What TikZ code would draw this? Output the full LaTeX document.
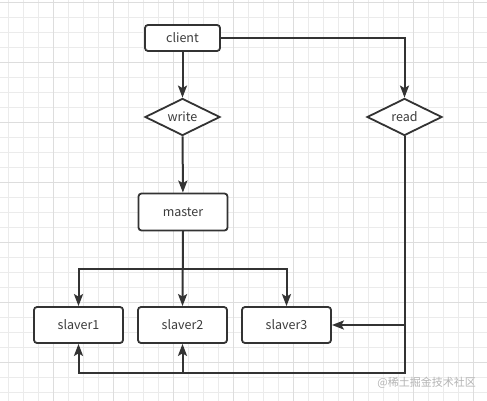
\documentclass[tikz,border=0pt]{standalone}
\usepackage{fontspec}
\setmainfont{Noto Sans CJK SC}
\usetikzlibrary{arrows.meta,shapes.geometric}
\definecolor{linec}{HTML}{333333}
\definecolor{textc}{HTML}{3C3C3C}
\definecolor{gridminor}{HTML}{EBEBEB}
\definecolor{gridmajor}{HTML}{DDDDDD}
\definecolor{wmark}{HTML}{B4B4B4}
\tikzset{
  box/.style={draw=linec, line width=1.8pt, rounded corners=3pt, fill=white,
    minimum width=75pt, minimum height=26pt, inner sep=0pt, text=textc,
    font=\fontsize{12.5}{14}\selectfont},
  widebox/.style={box, minimum width=89pt, minimum height=37pt},
  decision/.style={diamond, draw=linec, line width=1.8pt, fill=white, aspect=2,
    minimum width=75pt, minimum height=37pt, inner sep=0pt, text=textc,
    font=\fontsize{12.5}{14}\selectfont},
  arr/.style={draw=linec, line width=2pt,
    -{Stealth[length=12pt,width=9pt,inset=2.5pt]}},
  gminor/.style={draw=gridminor, line width=0.8pt},
  gmajor/.style={draw=gridmajor, line width=0.8pt}
}
\begin{document}
\begin{tikzpicture}[x=1pt,y=-1pt]
\useasboundingbox (0,0) rectangle (487,401);
\fill[white] (0,0) rectangle (487,401);
% grid
\foreach \x in {8,23,...,487} \draw[gminor] (\x,0) -- (\x,401);
\foreach \y in {2,17,...,401} \draw[gminor] (0,\y) -- (487,\y);
\foreach \x in {-7,53,...,487} \draw[gmajor] (\x,0) -- (\x,401);
\foreach \y in {2,62,...,401} \draw[gmajor] (0,\y) -- (487,\y);
% nodes
\node[box] (client) at (182.5,38) {client};
\node[decision] (write) at (182.5,117) {write};
\node[decision] (read) at (404.5,117) {read};
\node[widebox] (master) at (183,212) {master};
\node[widebox, minimum height=36pt] (s1) at (78.5,325) {slaver1};
\node[widebox, minimum height=36pt] (s2) at (182.5,325) {slaver2};
\node[widebox, minimum height=36pt] (s3) at (286.5,325) {slaver3};
\coordinate (bus) at (183,269);
\coordinate (bb) at (404.5,373);
% connectors
\draw[arr] (client) -- (write);
\draw[arr] (write) -- (master);
\draw[arr] (client.east) -| (read.north);
\draw[arr] (master.south) -- (s2.north);
\draw[arr] (master.south) |- (bus) -| (s1.north);
\draw[arr] (bus) -| (s3.north);
\draw[arr] (read.south) |- (bb) -| (s1.south);
\draw[arr] (s2.south |- bb) -- (s2.south);
\draw[arr] (read.south |- s3.east) -- (s3.east);
% watermark
\node[anchor=east, text=wmark, inner sep=0pt, font=\fontsize{11}{13}\selectfont] (wm) at (476,383) {@稀土掘金技术社区};
\end{tikzpicture}
\end{document}
